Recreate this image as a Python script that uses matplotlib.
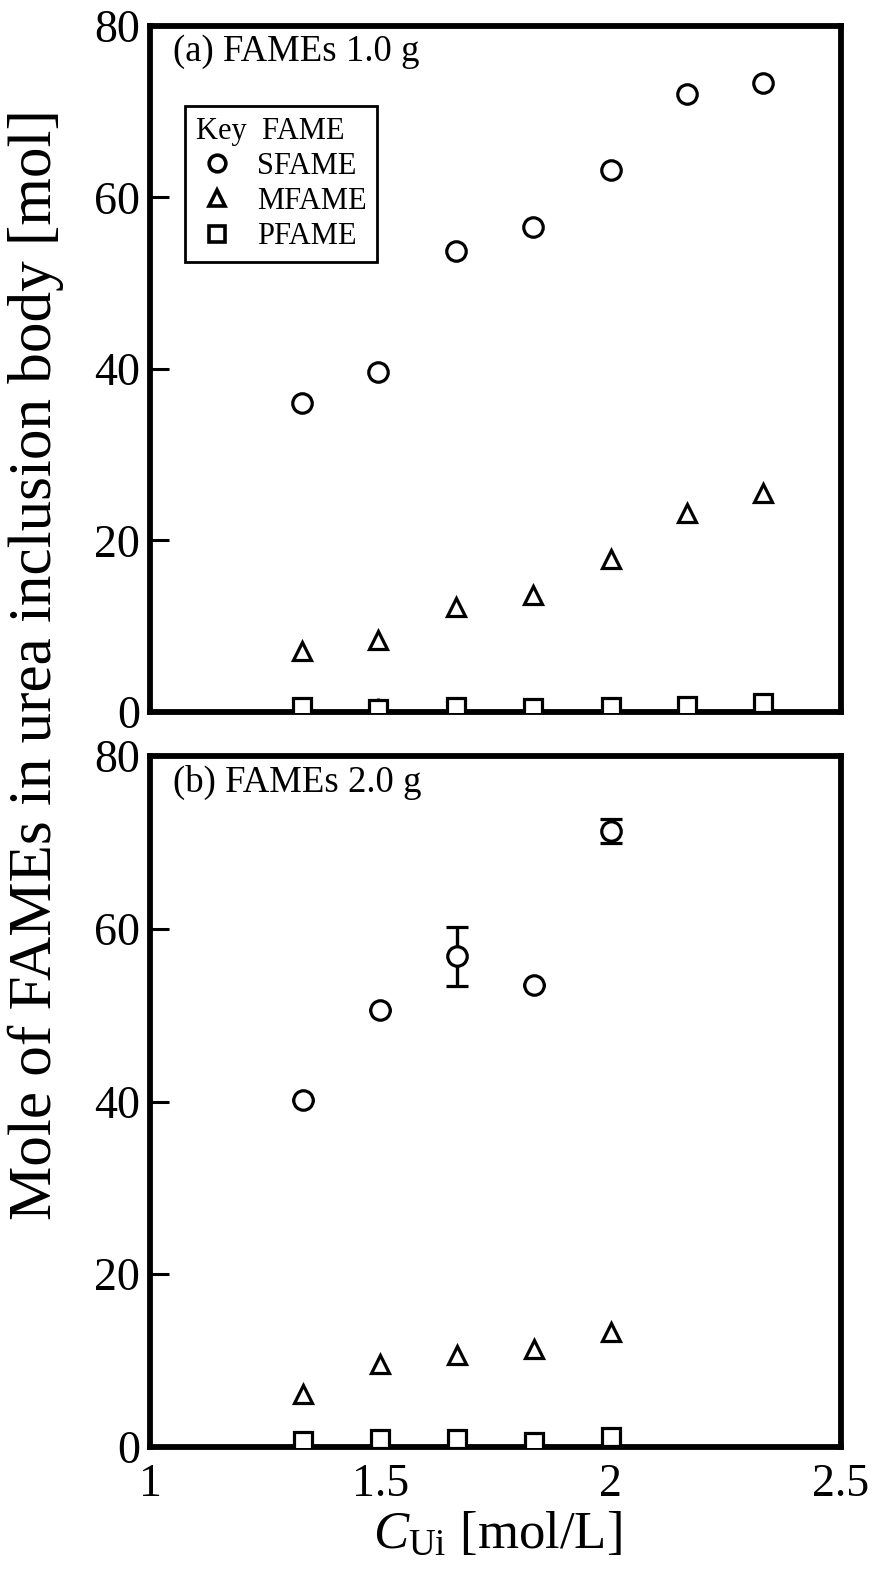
import matplotlib
matplotlib.use("Agg")
import matplotlib.pyplot as plt
from matplotlib.lines import Line2D

plt.rcParams['font.family'] = ['Liberation Serif', 'DejaVu Serif']
plt.rcParams['mathtext.fontset'] = 'custom'
plt.rcParams['mathtext.rm'] = 'Liberation Serif'
plt.rcParams['mathtext.it'] = 'Liberation Serif:italic'

# ---- data ----
x_a = [1.33, 1.495, 1.665, 1.832, 2.0, 2.165, 2.33]
sfame_a = [36.0, 39.6, 53.8, 56.6, 63.2, 72.1, 73.4]
mfame_a = [7.1, 8.4, 12.2, 13.7, 17.9, 23.2, 25.5]
pfame_a = [0.6, 0.3, 0.6, 0.5, 0.6, 0.7, 1.0]
pfame_a_err = [0.0, 1.3, 0.0, 0.0, 1.2, 0.0, 0.0]

x_b = [1.333, 1.5, 1.667, 1.833, 2.0]
sfame_b = [40.2, 50.6, 56.8, 53.5, 71.3]
sfame_b_err = [0.0, 0.0, 3.4, 0.0, 1.35]
mfame_b = [6.1, 9.6, 10.7, 11.4, 13.3]
pfame_b = [0.7, 0.9, 0.9, 0.6, 1.1]

panel_labels = ["(a) FAMEs 1.0 g", "(b) FAMEs 2.0 g"]
legend_labels = ["SFAME", "MFAME", "PFAME"]
xticks = [1, 1.5, 2, 2.5]
xticklabels = ["1", "1.5", "2", "2.5"]
yticks = [0, 20, 40, 60, 80]

W, H = 873, 1572
fig = plt.figure(figsize=(W / 100, H / 100), dpi=100)

def px_axes(l, r, t, b):
    return fig.add_axes([l / W, 1 - b / H, (r - l) / W, (b - t) / H])

ax1 = px_axes(150, 841, 26, 712)
ax2 = px_axes(150, 841, 756, 1447)

mk = dict(linestyle='none', markerfacecolor='white', markeredgecolor='black',
          color='black')
circ = dict(marker='o', markersize=14, markeredgewidth=2.3)
tri = dict(marker='^', markersize=13.5, markeredgewidth=2.3)
sq = dict(marker='s', markersize=12.5, markeredgewidth=2.3)

def style(ax, bottom_labels):
    ax.set_xlim(1, 2.5)
    ax.set_ylim(0, 80)
    ax.set_yticks(yticks)
    ax.set_xticks(xticks)
    ax.set_xticklabels(xticklabels if bottom_labels else [])
    ax.tick_params(axis='y', direction='in', length=14, width=2.2,
                   labelsize=33, pad=7)
    ax.tick_params(axis='x', length=0, labelsize=33, pad=12)
    for s in ax.spines.values():
        s.set_linewidth(4.2)

# panel (a)
ax1.errorbar(x_a, pfame_a, yerr=[[0] * len(x_a), pfame_a_err], capsize=0,
             elinewidth=2.2, zorder=3, **mk, **sq)
ax1.plot(x_a, mfame_a, zorder=3, **mk, **tri)
ax1.plot(x_a, sfame_a, zorder=3, **mk, **circ)
style(ax1, False)
ax1.text(0.033, 0.962, panel_labels[0], transform=ax1.transAxes,
         fontsize=26.5, va='center', ha='left')

# legend
lk = dict(linestyle='none', markerfacecolor='white', markeredgecolor='black',
          markeredgewidth=2.6)
handles = [Line2D([], [], marker='o', markersize=12, **lk),
           Line2D([], [], marker='^', markersize=12, **lk),
           Line2D([], [], marker='s', markersize=11, **lk)]
leg = ax1.legend(handles, legend_labels, title="Key  FAME",
                 loc='upper left', bbox_to_anchor=(0.051, 0.883),
                 borderaxespad=0, fontsize=22, title_fontsize=22,
                 frameon=True, fancybox=False, edgecolor='black',
                 framealpha=1, handlelength=1.4, handletextpad=0.6,
                 labelspacing=0.2, borderpad=0.35, alignment='left')
leg.get_frame().set_linewidth(2.0)

# panel (b)
ax2.plot(x_b, pfame_b, zorder=3, **mk, **sq)
ax2.plot(x_b, mfame_b, zorder=3, **mk, **tri)
ax2.errorbar(x_b, sfame_b, yerr=sfame_b_err, capsize=8, capthick=2.4,
             elinewidth=2.4, zorder=3, **mk, **circ)
style(ax2, True)
ax2.text(0.033, 0.962, panel_labels[1], transform=ax2.transAxes,
         fontsize=26.5, va='center', ha='left')

fig.text(36 / W, 1 - 665 / H, "Mole of FAMEs in urea inclusion body [mol]",
         rotation=90, ha='center', va='center', fontsize=44)
fig.text(497 / W, 1 - 1535 / H, r"$C_{\mathrm{Ui}}$ [mol/L]",
         ha='center', va='center', fontsize=38)

fig.savefig("out.png", dpi=100)
